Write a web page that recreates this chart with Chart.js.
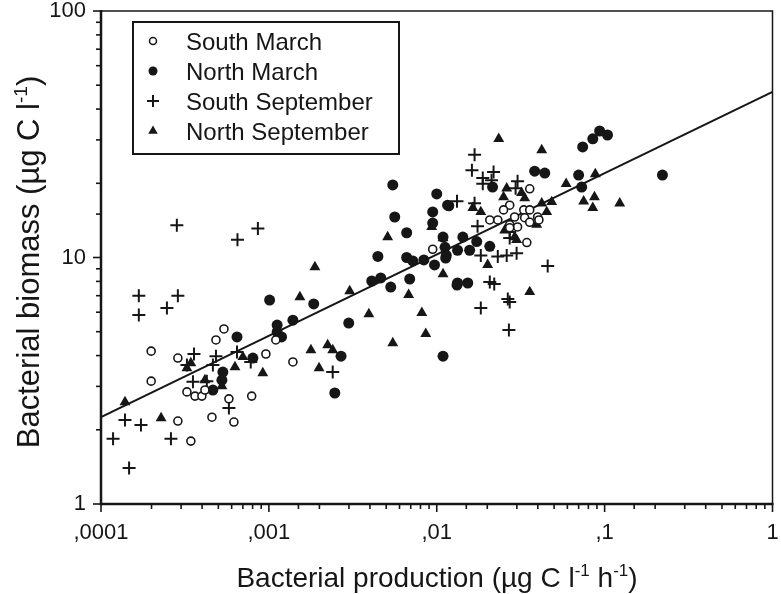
<!DOCTYPE html>
<html><head><meta charset="utf-8">
<script src="https://cdn.jsdelivr.net/npm/chart.js@4.4.1/dist/chart.umd.min.js"></script>
<style>html,body{margin:0;padding:0;background:#fff;}canvas{display:block;}</style>
</head><body>
<canvas id="c" width="781" height="594"></canvas>
<script>
// ---- data (x: bacterial production, y: bacterial biomass) ----
const southMarch = [
[1.99e-4,4.17],[1.99e-4,3.15],[2.87e-4,3.91],[4.84e-4,4.63],[5.4e-4,5.13],[3.25e-4,2.85],[3.63e-4,2.74],[3.99e-4,2.74],[4.16e-4,2.9],[5.78e-4,2.67],[7.9e-4,2.74],[4.58e-4,2.25],[6.19e-4,2.15],[2.87e-4,2.17],[3.43e-4,1.8],[9.6e-4,4.06],[1.1e-3,4.63],[1.39e-3,3.77],[9.46e-3,10.8],
[0.0358,19.0],[0.0272,16.3],[0.025,15.6],[0.033,15.6],[0.0358,15.6],[0.0207,14.2],[0.0231,14.2],[0.0291,14.6],[0.0334,14.5],[0.0358,13.9],[0.0399,14.6],[0.0272,13.6],[0.0303,13.3],[0.0272,13.2],[0.0344,11.5],[0.0406,14.2]
];
const northMarch = [
[6.46e-4,4.76],[1.01e-3,6.72],[1.12e-3,5.32],[1.12e-3,4.99],[1.19e-3,4.76],[1.39e-3,5.57],[1.85e-3,6.48],[5.32e-4,3.43],[5.25e-4,3.18],[4.64e-4,2.9],[8.03e-4,3.91],
[5.47e-3,19.7],[0.01,18.1],[5.62e-3,14.6],[9.46e-3,15.3],[9.46e-3,13.8],[0.0118,16.2],[6.62e-3,12.6],[4.46e-3,10.1],[6.62e-3,10.0],[7.2e-3,9.68],[8.38e-3,9.78],[9.7e-3,9.33],[0.0113,9.95],[4.1e-3,8.03],[4.64e-3,8.26],[5.32e-3,7.59],[6.9e-3,8.18],[0.0132,7.73],[2.99e-3,5.42],[2.69e-3,3.98],[0.0109,3.98],[2.47e-3,2.82],
[0.074,28.1],[0.085,30.3],[0.0934,32.6],[0.104,31.4],[0.0383,22.4],[0.044,22.0],[0.07,21.6],[0.073,19.3],[0.0215,19.3],[0.0116,16.3],[0.0109,12.1],[0.0112,11.0],[0.0143,12.1],[0.0173,11.6],[0.0133,10.7],[0.0157,10.7],[0.0114,10.2],[0.0207,11.1],[0.0133,7.88],[0.0153,7.88],[0.221,21.6]
];
const southSeptember = [
[2.83e-4,13.5],[8.6e-4,13.1],[6.5e-4,11.8],[1.68e-4,7.0],[2.87e-4,7.0],[2.47e-4,6.24],[1.68e-4,5.85],[3.58e-4,4.06],[4.84e-4,3.98],[6.46e-4,4.14],[4.64e-4,3.66],[7.8e-4,3.77],[3.53e-4,3.13],[4.27e-4,3.15],[5.78e-4,2.45],[1.39e-4,2.19],[1.73e-4,2.09],[1.18e-4,1.84],[2.61e-4,1.84],[1.47e-4,1.40],[3.25e-4,3.66],[2.4e-3,3.43],
[0.0168,26.1],[0.0162,22.6],[0.0188,21.0],[0.0188,19.9],[0.0218,22.2],[0.0212,20.6],[0.0303,20.4],[0.0295,19.1],[0.0132,16.9],[0.0168,16.6],[0.0175,13.4],[0.0183,10.2],[0.0231,10.1],[0.0261,10.2],[0.0299,10.4],[0.0272,12.0],[0.0272,12.7],[0.0207,7.96],[0.022,7.8],[0.0265,6.79],[0.0272,6.6],[0.0458,9.24],[0.0183,6.24],[0.0269,5.08]
];
const northSeptember = [
[1.39e-4,2.59],[2.28e-4,2.23],[3.25e-4,3.56],[3.43e-4,3.73],[6.28e-4,3.59],[7.0e-4,3.95],[4.16e-4,3.18],[5.25e-4,3.01],[9.2e-4,3.40],[1.53e-3,6.91],[1.78e-3,4.21],[1.88e-3,9.15],[1.99e-3,3.56],[5.1e-3,12.1],[9.33e-3,13.3],[0.0109,12.0],[3.03e-3,7.31],[6.8e-3,7.05],[0.0109,8.57],[3.94e-3,5.9],[8.15e-3,5.96],[8.6e-3,4.9],[5.47e-3,4.5],[2.24e-3,4.41],[2.4e-3,4.21],
[0.0234,30.3],[0.0422,27.3],[0.059,19.9],[0.088,21.8],[0.075,16.9],[0.087,17.6],[0.085,15.9],[0.123,16.6],[0.0261,19.1],[0.025,17.6],[0.0334,17.4],[0.032,18.3],[0.0164,15.9],[0.0183,15.3],[0.0422,16.6],[0.0484,16.8],[0.0452,15.3],[0.0394,13.6],[0.0254,12.9],[0.0291,12.1],[0.0299,11.8],[0.0201,9.33],[0.0358,7.25]
];
const fitLine = [[0.0001,2.25],[1,47]];
const xTickValues = [0.0001,0.001,0.01,0.1,1];
const xTickLabels = [",0001",",001",",01",",1","1"];
const yTickValues = [1,10,100];
const yTickLabels = ["1","10","100"];
const seriesNames = ["South March","North March","South September","North September"];

const INK = '#161616';
const FONT = '"Liberation Sans", Arial, sans-serif';
const toXY = a => a.map(p => ({x:p[0], y:p[1]}));
function labelFor(v, vals, labs){
  for (let i=0;i<vals.length;i++){ if (Math.abs(Math.log10(v)-Math.log10(vals[i]))<1e-6) return labs[i]; }
  return '';
}
const isMajor = v => Math.abs(Math.log10(v)-Math.round(Math.log10(v)))<1e-6;

const styles = [
  {pointStyle:'circle', radius:4, backgroundColor:'#fff', borderColor:INK, borderWidth:1.6},
  {pointStyle:'circle', radius:5.5, backgroundColor:INK, borderColor:INK, borderWidth:0},
  {pointStyle:'cross', radius:6.5, backgroundColor:INK, borderColor:INK, borderWidth:2},
  {pointStyle:'triangle', radius:6.3, backgroundColor:INK, borderColor:INK, borderWidth:0}
];
const legendStyles = [
  {pointStyle:'circle', radius:3.5, fill:'#fff', lw:1.5},
  {pointStyle:'circle', radius:4.5, fill:INK, lw:0},
  {pointStyle:'cross', radius:6, fill:INK, lw:2},
  {pointStyle:'triangle', radius:5.5, fill:INK, lw:0}
];

function drawRich(ctx, parts, size){
  const supSize = Math.round(size*0.62);
  let w = 0;
  parts.forEach(p => { ctx.font = (p.sup?supSize:size)+'px '+FONT; p.w = ctx.measureText(p.t).width; w += p.w; });
  let cx = -w/2;
  parts.forEach(p => {
    ctx.font = (p.sup?supSize:size)+'px '+FONT;
    ctx.fillText(p.t, cx, p.sup ? -size*0.38 : 0);
    cx += p.w;
  });
}

const deco = {
  id:'deco',
  afterDraw(chart){
    const {ctx, chartArea:a} = chart;
    const xs = chart.scales.x, ys = chart.scales.y;
    ctx.save();
    ctx.strokeStyle = INK; ctx.fillStyle = INK;
    ctx.lineCap = 'butt';
    // frame
    ctx.lineWidth = 1.5;
    ctx.beginPath(); ctx.moveTo(a.left, a.top); ctx.lineTo(a.right, a.top); ctx.lineTo(a.right, a.bottom); ctx.stroke();
    ctx.lineWidth = 2.5;
    ctx.beginPath(); ctx.moveTo(a.left, a.top-1); ctx.lineTo(a.left, a.bottom); ctx.lineTo(a.right+1, a.bottom); ctx.stroke();
    // ticks
    ctx.lineWidth = 1.6;
    xs.ticks.forEach(t => {
      const px = xs.getPixelForValue(t.value), L = isMajor(t.value) ? 8 : 5;
      ctx.beginPath(); ctx.moveTo(px, a.bottom); ctx.lineTo(px, a.bottom+L); ctx.stroke();
    });
    ys.ticks.forEach(t => {
      const py = ys.getPixelForValue(t.value), L = isMajor(t.value) ? 8 : 5;
      ctx.beginPath(); ctx.moveTo(a.left, py); ctx.lineTo(a.left-L, py); ctx.stroke();
    });
    // axis titles
    ctx.textAlign = 'left'; ctx.textBaseline = 'alphabetic';
    ctx.save();
    ctx.translate(437, 587);
    drawRich(ctx, [{t:'Bacterial production (µg C l'},{t:'-1',sup:true},{t:' h'},{t:'-1',sup:true},{t:')'}], 28);
    ctx.restore();
    ctx.save();
    ctx.translate(39, 262); ctx.rotate(-Math.PI/2);
    drawRich(ctx, [{t:'Bacterial biomass (µg C l'},{t:'-1',sup:true},{t:')'}], 31);
    ctx.restore();
    // legend
    ctx.fillStyle = '#fff';
    ctx.fillRect(133, 22, 266, 132);
    ctx.lineWidth = 2; ctx.strokeStyle = INK;
    ctx.strokeRect(133, 22, 266, 132);
    const rows = [41, 71, 101, 131];
    ctx.font = '24px '+FONT; ctx.textBaseline = 'alphabetic'; ctx.textAlign = 'left';
    seriesNames.forEach((n, i) => {
      const s = legendStyles[i];
      ctx.fillStyle = s.fill; ctx.strokeStyle = INK; ctx.lineWidth = s.lw || 0.001;
      Chart.helpers.drawPoint(ctx, {pointStyle:s.pointStyle, radius:s.radius, borderWidth:s.lw, rotation:0}, 153, rows[i]);
      ctx.fillStyle = INK;
      ctx.fillText(n, 186, rows[i]+8.5);
    });
    ctx.restore();
  }
};

function noPad(s){ s.paddingTop = 0; s.paddingBottom = 0; s.paddingLeft = 0; s.paddingRight = 0; }

new Chart(document.getElementById('c'), {
  type:'scatter',
  data:{datasets:[
    Object.assign({label:seriesNames[0], data:toXY(southMarch)}, styles[0]),
    Object.assign({label:seriesNames[1], data:toXY(northMarch)}, styles[1]),
    Object.assign({label:seriesNames[2], data:toXY(southSeptember)}, styles[2]),
    Object.assign({label:seriesNames[3], data:toXY(northSeptember)}, styles[3]),
    {type:'line', label:'fit', data:toXY(fitLine), showLine:true, pointRadius:0, borderColor:INK, borderWidth:2, fill:false}
  ]},
  options:{
    responsive:false, animation:false, devicePixelRatio:1,
    layout:{padding:{top:11, right:8, left:0, bottom:0}},
    plugins:{legend:{display:false}, tooltip:{enabled:false}},
    scales:{
      x:{type:'logarithmic', position:'bottom', min:1e-4, max:1,
         grid:{display:false, drawTicks:false}, border:{display:false},
         ticks:{autoSkip:false, maxRotation:0, padding:16, color:INK, font:{family:FONT, size:22},
                callback:(v)=>labelFor(v, xTickValues, xTickLabels)},
         afterFit:(s)=>{s.height = 90; noPad(s);}},
      y:{type:'logarithmic', position:'left', min:1, max:100,
         grid:{display:false, drawTicks:false}, border:{display:false},
         ticks:{autoSkip:false, padding:15, color:INK, font:{family:FONT, size:22},
                callback:(v)=>labelFor(v, yTickValues, yTickLabels)},
         afterFit:(s)=>{s.width = 101; noPad(s);}}
    }
  },
  plugins:[deco]
});
</script>
</body></html>
